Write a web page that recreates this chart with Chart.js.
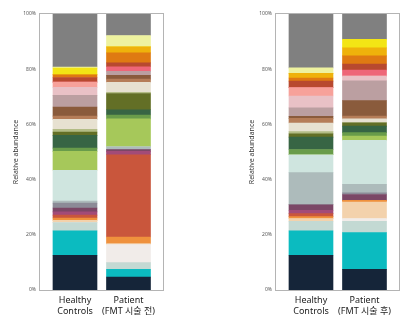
<!DOCTYPE html>
<html>
<head>
<meta charset="utf-8">
<script src="https://cdn.jsdelivr.net/npm/chart.js@4/dist/chart.umd.min.js"></script>
<style>
html, body { margin: 0; padding: 0; background: #fff; }
#wrap { position: relative; width: 413px; height: 324px; overflow: hidden; }
.panel { position: absolute; top: 0; }
</style>
</head>
<body>
<div id="wrap">
  <div class="panel" style="left:0"><canvas id="chartBefore" width="206" height="324"></canvas></div>
  <div class="panel" style="left:206px"><canvas id="chartAfter" width="207" height="324"></canvas></div>
</div>
<script>
// 分類標籤
const labelsBefore = [['Healthy', 'Controls'], ['Patient', '(FMT 시술 전)']];
const labelsAfter = [['Healthy', 'Controls'], ['Patient', '(FMT 시술 후)']];
const yTicks = [0, 20, 40, 60, 80, 100];

// 每個分類群的顏色（由下往上）
const taxonColors = [
    '#152539', '#0bbbc0', '#c3d9d3', '#f1ece9', '#f3d2ac', '#ef913d', '#c9563c',
    '#a24b78', '#7b4766', '#8c8b97', '#adbbbb', '#cfe5df', '#a6c85a', '#699c4a',
    '#376544', '#636f26', '#b3bc86', '#e7e1d1', '#b57d58', '#8a5b3c', '#bb9fa1',
    '#e9c1c6', '#f7a19a', '#ee6678', '#b8492f', '#df7a12', '#efb20b', '#f3e515',
    '#eef29f', '#808080'
];

// 相對豐度 (%)，順序同上
const healthyBefore = [12.6, 8.8, 3.0, 0, 0.85, 0.85, 1.0, 1.2, 1.4, 1.8, 0.7, 11.2, 6.8, 1.2,
    4.6, 1.2, 1.0, 3.6, 1.2, 3.3, 4.2, 2.9, 1.9, 0, 1.7, 1.0, 0, 2.4, 0.4, 19.2];
const patientBefore = [4.7, 2.8, 2.4, 6.6, 0.3, 2.4, 29.8, 1.2, 0.7, 0, 1.0, 0, 10.1, 1.4,
    1.9, 5.9, 0.4, 3.6, 1.2, 1.4, 1.4, 0, 0, 1.7, 1.4, 3.6, 2.2, 0, 4.1, 7.8];
const healthyAfter = [12.6, 8.8, 3.5, 0, 1.0, 0.7, 1.1, 1.2, 2.0, 0, 11.6, 6.5, 0, 1.9,
    4.5, 1.2, 0.8, 3.1, 1.7, 0.7, 3.1, 4.3, 3.0, 0, 2.4, 1.1, 1.7, 0, 2.0, 19.5];
const patientAfter = [7.5, 13.3, 4.1, 1.0, 6.0, 0.6, 0, 0, 2.1, 0.6, 3.1, 15.9, 1.6, 1.2,
    2.4, 1.2, 0, 1.4, 1.0, 5.6, 7.2, 1.7, 0, 2.2, 2.2, 2.9, 2.9, 3.1, 0, 9.2];

const FONT = '"Noto Sans", "Noto Sans CJK KR", sans-serif';

// 外框
const framePlugin = {
    id: 'frame',
    afterDraw(chart) {
        const { ctx, chartArea: a } = chart;
        ctx.save();
        ctx.strokeStyle = '#b4b4b4';
        ctx.lineWidth = 1;
        ctx.strokeRect(a.left - 0.5, a.top - 0.5, a.right - a.left + 1, a.bottom - a.top + 1);
        ctx.restore();
    }
};

function makeChart(id, labels, healthy, patient, padLeft, padRight) {
    const datasets = taxonColors.map((c, i) => ({
        label: 'taxon ' + (i + 1),
        data: [{ x: 0, y: healthy[i] }, { x: 1, y: patient[i] }],
        backgroundColor: c,
        borderWidth: 0,
        barThickness: 44
    }));

    return new Chart(document.getElementById(id), {
        type: 'bar',
        data: { datasets },
        plugins: [framePlugin],
        options: {
            responsive: false,
            animation: false,
            devicePixelRatio: 1,
            layout: { padding: { left: padLeft, right: padRight, top: 14, bottom: 0 } },
            plugins: { legend: { display: false }, tooltip: { enabled: false } },
            scales: {
                x: {
                    type: 'linear',
                    stacked: true,
                    offset: false,
                    min: -0.654,
                    max: 1.645,
                    grid: { display: false, drawTicks: false },
                    border: { display: false },
                    afterBuildTicks: s => { s.ticks = labels.map((l, i) => ({ value: i })); },
                    afterFit: s => { s.height = 34; },
                    ticks: {
                        padding: 5,
                        color: '#222',
                        font: { family: FONT, size: 9 },
                        callback: v => labels[v]
                    }
                },
                y: {
                    stacked: true,
                    min: 0,
                    max: 100,
                    grid: { display: false, drawTicks: false },
                    border: { display: false },
                    afterBuildTicks: s => { s.ticks = yTicks.map(v => ({ value: v })); },
                    afterFit: s => { s.width = 36; },
                    ticks: {
                        padding: 4,
                        color: '#555',
                        font: { family: FONT, size: 5 },
                        callback: v => v + '%'
                    },
                    title: {
                        display: true,
                        text: 'Relative abundance',
                        color: '#333',
                        padding: { top: 8, bottom: 0 },
                        font: { family: FONT, size: 7 }
                    }
                }
            }
        }
    });
}

makeChart('chartBefore', labelsBefore, healthyBefore, patientBefore, 4, 43);
makeChart('chartAfter', labelsAfter, healthyAfter, patientAfter, 34, 14);
</script>
</body>
</html>
